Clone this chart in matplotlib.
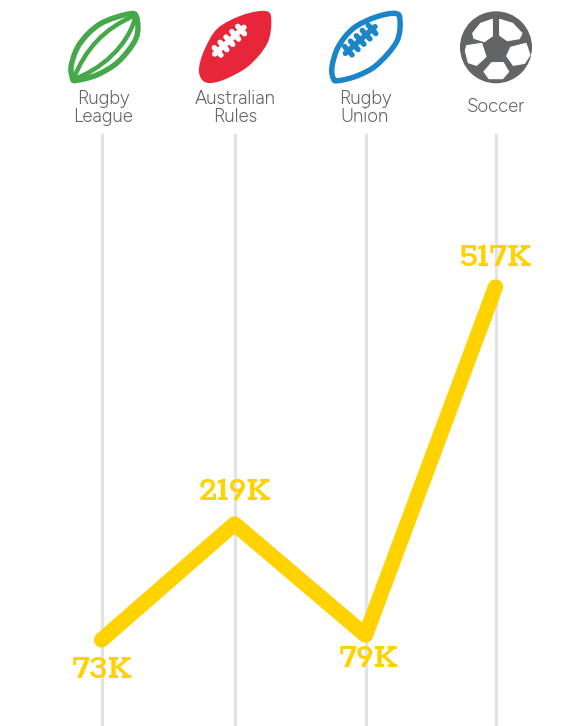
import matplotlib
matplotlib.use("Agg")
import matplotlib.pyplot as plt
from matplotlib.path import Path
from matplotlib.patches import PathPatch, Circle, Polygon

# Chart data
sports = ["Rugby\nLeague", "Australian\nRules", "Rugby\nUnion", "Soccer"]
players_k = [73, 219, 79, 517]
value_labels = ["73K", "219K", "79K", "517K"]

GREEN = "#45a84a"
RED = "#e8263a"
BLUE = "#1b85c9"
GREY = "#636466"
YELLOW = "#ffd200"
TEXT = "#636466"
GRID = "#e3e3e5"
VALUE_FONT = ["Rokkitt", "DejaVu Serif"]
CAPTION_FONT = ["Figtree", "Open Sans"]

W, H = 583, 726
fig = plt.figure(figsize=(W / 100, H / 100), dpi=100, facecolor="white")

# Main axes span the figure; x runs in figure pixels, y in thousands of players
ax = fig.add_axes([0, 0, 1, 1])
column_x = [101.5, 234.5, 365.5, 495.5]
px_per_k = 0.795
baseline_px = 698
ax.set_xlim(0, W)
ax.set_ylim((baseline_px - H) / px_per_k, baseline_px / px_per_k)
ax.axis("off")

for x in column_x:
    ax.axvline(x, ymin=0, ymax=1 - 135 / H, color=GRID, lw=2.3, zorder=1)

ax.plot(column_x, players_k, color=YELLOW, lw=11, solid_capstyle="round",
        solid_joinstyle="round", zorder=2)

label_x = [102, 235, 368, 495]
label_dy = [-31, 31, -24, 28]
for x, v, s, dy in zip(label_x, players_k, value_labels, label_dy):
    ax.annotate(s, (x, v), xytext=(0, dy * 0.72), textcoords="offset points",
                ha="center", va="center", color=YELLOW, fontsize=27,
                family=VALUE_FONT, fontweight="bold", zorder=3)

# Overlay in pixel coordinates for the header icons and captions
ov = fig.add_axes([0, 0, 1, 1], facecolor="none")
ov.set_xlim(0, W)
ov.set_ylim(H, 0)
ov.axis("off")

caption_y = [108, 108, 108, 107.5]
for x, s, y in zip([103, 235, 365, 496], sports, caption_y):
    ov.text(x, y, s, ha="center", va="center", color=TEXT, fontsize=13.3,
            family=CAPTION_FONT, linespacing=0.98)


def scaled(points, ox, oy):
    return [(ox + px / 3, oy + py / 3) for px, py in points]


def smooth_path(points, ox, oy):
    # Closed Catmull-Rom outline turned into cubic Bezier segments
    pts = scaled(points, ox, oy)
    n = len(pts)
    verts = [pts[0]]
    codes = [Path.MOVETO]
    for i in range(n):
        p0, p1, p2, p3 = pts[i - 1], pts[i], pts[(i + 1) % n], pts[(i + 2) % n]
        c1 = (p1[0] + (p2[0] - p0[0]) / 6, p1[1] + (p2[1] - p0[1]) / 6)
        c2 = (p2[0] - (p3[0] - p1[0]) / 6, p2[1] - (p3[1] - p1[1]) / 6)
        verts += [c1, c2, p2]
        codes += [Path.CURVE4] * 3
    return Path(verts, codes)


def curve(a, c1, c2, b, ox, oy):
    return Path(scaled([a, c1, c2, b], ox, oy),
                [Path.MOVETO, Path.CURVE4, Path.CURVE4, Path.CURVE4])


def laces(start, end, count, half, color, lw, ox, oy):
    # Spine with short cross-stitches at even spacing
    (x0, y0), (x1, y1) = start, end
    dx, dy = x1 - x0, y1 - y0
    length = (dx ** 2 + dy ** 2) ** 0.5
    nx, ny = -dy / length, dx / length
    segs = [(start, end)]
    for i in range(count):
        t = (i + 0.5) / count
        cx, cy = x0 + dx * t, y0 + dy * t
        segs.append(((cx - nx * half, cy - ny * half), (cx + nx * half, cy + ny * half)))
    for a, b in segs:
        pa, pb = scaled([a, b], ox, oy)
        ov.plot([pa[0], pb[0]], [pa[1], pb[1]], color=color, lw=lw, solid_capstyle="round")


# Rugby league: open outline with two inner seams
league = [(68, 236), (64, 195), (90, 130), (150, 72), (235, 42), (260, 52), (258, 115),
          (205, 185), (140, 225), (80, 241)]
ov.add_patch(PathPatch(smooth_path(league, 50, 0), fc="none", ec=GREEN, lw=3.9))
ov.add_patch(PathPatch(curve((70, 238), (105, 150), (160, 85), (258, 45), 50, 0),
                       fc="none", ec=GREEN, lw=3.2))
ov.add_patch(PathPatch(curve((70, 238), (150, 210), (235, 140), (258, 45), 50, 0),
                       fc="none", ec=GREEN, lw=3.2))

# Australian rules: solid ball with white laces
aussie = [(455, 238), (447, 205), (463, 150), (503, 85), (578, 45), (648, 33), (664, 60),
          (652, 130), (597, 197), (527, 237), (480, 249)]
ov.add_patch(PathPatch(smooth_path(aussie, 50, 0), fc=RED, ec="none"))
laces((494, 162), (582, 82), 5, 15, "white", 3.9, 50, 0)

# Rugby union: outline ball with blue laces
union = [(100, 236), (96, 200), (115, 140), (160, 85), (225, 52), (285, 40), (300, 60),
         (290, 125), (230, 195), (170, 228), (115, 242)]
ov.add_patch(PathPatch(smooth_path(union, 300, 0), fc="none", ec=BLUE, lw=3.9))
laces((136, 160), (225, 80), 5, 17, BLUE, 3.9, 300, 0)

# Soccer ball: grey disc with five white panels
ov.add_patch(Circle((496, 47.3), 36, fc=GREY, ec="none"))
panels = [
    [(518, 100), (542, 70), (577, 58), (577, 108), (553, 125), (522, 115)],
    [(599, 58), (638, 70), (666, 100), (658, 116), (622, 122), (599, 106)],
    [(632, 142), (678, 130), (690, 165), (674, 190), (640, 196), (620, 168)],
    [(500, 137), (545, 130), (558, 170), (530, 196), (505, 188), (496, 152)],
    [(575, 188), (610, 188), (626, 215), (608, 236), (567, 236), (552, 215)],
]
for panel in panels:
    ov.add_patch(Polygon(scaled(panel, 300, 0), closed=True, fc="white", ec="white",
                         lw=0.8, joinstyle="round"))

fig.savefig("out.png", dpi=100, facecolor="white")
